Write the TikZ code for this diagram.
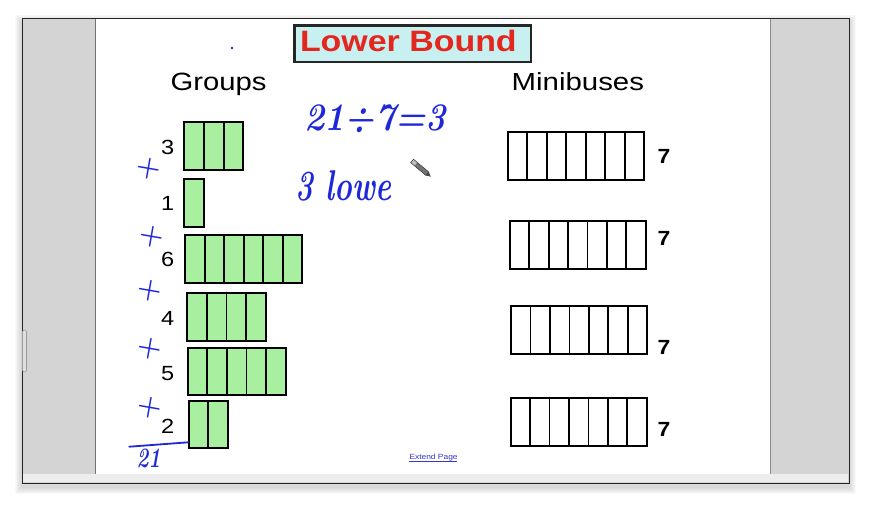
\documentclass[tikz,border=0pt]{standalone}
\usepackage{fontspec}
\usepackage{graphicx}
\newfontfamily\arial{Liberation Sans}
\definecolor{panel}{HTML}{D4D4D4}
\definecolor{cellgreen}{HTML}{A8EFA0}
\definecolor{titlefill}{HTML}{C8F0F0}
\definecolor{titlered}{HTML}{E3261E}
\definecolor{ink}{HTML}{1E28D8}
\definecolor{linkblue}{HTML}{3535C8}
\newcommand\cellsrow[6]{%
  \fill[#6] (#1,#3) rectangle (#2,#4);
  \foreach \k in {1,...,#5}{\draw[cellline] ({#1+(\k-1)*(#2-#1)/#5},#3) rectangle ({#1+\k*(#2-#1)/#5},#4);}%
}
\begin{document}
\begin{tikzpicture}[x=1pt,y=-1pt,
  cellline/.style={line width=1.8pt,black},
  head/.style={font=\arial\fontsize{25}{25}\selectfont, anchor=base west, inner sep=0pt},
  num/.style={font=\arial\fontsize{20.5}{20.5}\selectfont, anchor=base east, inner sep=0pt},
  busnum/.style={font=\arial\bfseries\fontsize{20.5}{20.5}\selectfont, anchor=base west, inner sep=0pt},
  hw/.style={ink, anchor=base west, inner sep=0pt},
  plus/.style={ink, font=\bfseries\fontsize{28}{28}\selectfont, inner sep=0pt, rotate=-10}]
\useasboundingbox (0,0) rectangle (871,510);
% shadow
\foreach \s in {1,...,7}{\fill[black,opacity=0.025] (22-\s,18-\s+4) rectangle (849+\s,483+\s+4);}
% window
\fill[panel] (22,18) rectangle (849,483);
\fill[white] (95,19) rectangle (770,474);
\fill[black!7] (23,474) rectangle (848,482.5);
\draw[black!55,line width=1pt] (95,19) -- (95,474);
\draw[black!45,line width=0.8pt] (770,19) -- (770,474);
\draw[black!85,line width=0.9pt] (22,18) rectangle (849,483);
\fill[black!12,rounded corners=2pt] (22.5,330) rectangle (26.5,372);
\draw[black!40,rounded corners=2pt,line width=0.6pt] (22.5,330) rectangle (26.5,372);
% title
\draw[black!85,line width=2.6pt,fill=titlefill] (294.5,25.3) rectangle (531,62);
\node[font=\arial\bfseries\fontsize{29.5}{29.5}\selectfont, text=titlered, anchor=base west, inner sep=0pt] (title) at (299.8,52) {\scalebox{1.15}[1]{Lower Bound}};
% headings
\node[head] (groups) at (170.4,90.7) {\scalebox{1.17}[1]{Groups}};
\node[head,font=\arial\fontsize{24.7}{24.7}\selectfont] (minibuses) at (511.5,90.7) {\scalebox{1.19}[1]{Minibuses}};
% green group rows
\cellsrow{184.3}{243.3}{122}{169.7}{3}{cellgreen}
\cellsrow{184.3}{204.3}{179.3}{227}{1}{cellgreen}
\cellsrow{185.3}{302.3}{235.3}{282.7}{6}{cellgreen}
\cellsrow{187.3}{265.7}{292.7}{340.7}{4}{cellgreen}
\cellsrow{187.7}{285.7}{347.7}{395.3}{5}{cellgreen}
\cellsrow{188.7}{227.7}{400.7}{448.3}{2}{cellgreen}
\node[num] (n3) at (174.5,154.3) {\scalebox{1.15}[1]{3}};
\node[num] (n1) at (174.5,211) {\scalebox{1.15}[1]{1}};
\node[num] (n6) at (174.5,267) {\scalebox{1.15}[1]{6}};
\node[num] (n4) at (174.5,325.7) {\scalebox{1.15}[1]{4}};
\node[num] (n5) at (174.5,381) {\scalebox{1.15}[1]{5}};
\node[num] (n2) at (174.5,434) {\scalebox{1.15}[1]{2}};
% minibuses
\cellsrow{507.7}{644.3}{132}{180.3}{7}{white}
\cellsrow{510}{645.7}{221}{269}{7}{white}
\cellsrow{511}{647.3}{306}{354}{7}{white}
\cellsrow{510.7}{646.7}{397.7}{446}{7}{white}
\node[busnum] (b1) at (657.5,164) {\scalebox{1.12}[1]{7}};
\node[busnum] (b2) at (657.5,246) {\scalebox{1.12}[1]{7}};
\node[busnum] (b3) at (657.5,354.3) {\scalebox{1.12}[1]{7}};
\node[busnum] (b4) at (657.5,436.7) {\scalebox{1.12}[1]{7}};
% handwriting
\fill[ink] (232,48) circle (1.4);
\node[hw,font=\bfseries\itshape\fontsize{39}{39}\selectfont] (calc) at (304,131) {\scalebox{0.88}[1]{21÷7=3}};
\node[hw,font=\bfseries\itshape\fontsize{43}{43}\selectfont] (lower) at (295,201) {\scalebox{0.7}[1]{3 lowe}};
\node[plus] (p1) at (149,169) {+};
\node[plus] (p2) at (151.7,236.5) {+};
\node[plus] (p3) at (150,291) {+};
\node[plus] (p4) at (149.5,349) {+};
\node[plus] (p5) at (149.7,408) {+};
\coordinate (sumL) at (129.3,446.7);
\coordinate (sumR) at (188.3,442.3);
\draw[ink,line width=1.8pt,line cap=round] (sumL) -- (sumR);
\node[hw,font=\bfseries\itshape\fontsize{28}{28}\selectfont] (total) at (136.5,468) {\scalebox{0.72}[1]{21}};
% pencil cursor
\begin{scope}[shift={(420.5,168)},rotate=-40]
  \fill[black!55] (-11,-2.2) rectangle (9,2.2);
  \fill[black!25] (-11,-2.2) rectangle (-6,2.2);
  \fill[black!70] (9,-2.2) -- (13.5,0) -- (9,2.2) -- cycle;
  \draw[black!80,line width=0.5pt] (-11,-2.2) rectangle (9,2.2);
\end{scope}
% link
\node[font=\arial\fontsize{7.5}{7.5}\selectfont, text=linkblue, anchor=base west, inner sep=0pt] (extend) at (409.3,459.5) {\scalebox{1.12}[1]{Extend Page}};
\draw[linkblue,line width=0.5pt] (extend.base west)++(0,1.4) -- ++(48,0);
\end{tikzpicture}
\end{document}
